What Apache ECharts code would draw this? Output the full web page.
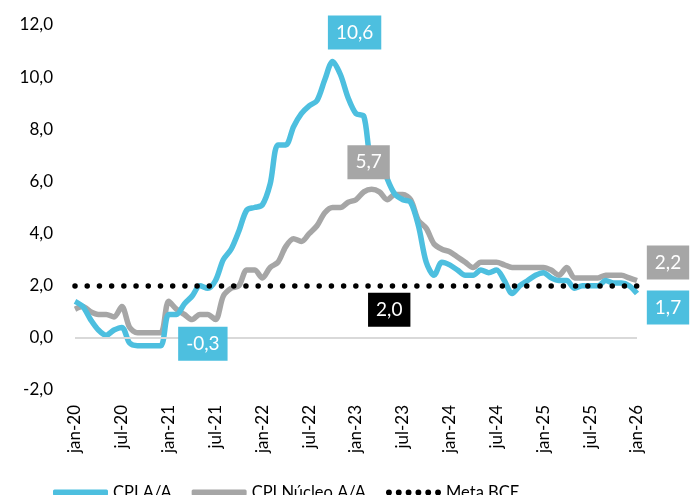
<!DOCTYPE html>
<html>
<head>
<meta charset="utf-8">
<script src="https://cdn.jsdelivr.net/npm/echarts@6/dist/echarts.min.js"></script>
<style>
  html, body { margin: 0; padding: 0; background: #fff; }
  #box { width: 690px; height: 495px; }
</style>
</head>
<body>
<div id="box"></div>
<script>
// meses jan-20 .. jan-26
const months = [
  'jan-20','fev-20','mar-20','abr-20','mai-20','jun-20','jul-20','ago-20','set-20','out-20','nov-20','dez-20',
  'jan-21','fev-21','mar-21','abr-21','mai-21','jun-21','jul-21','ago-21','set-21','out-21','nov-21','dez-21',
  'jan-22','fev-22','mar-22','abr-22','mai-22','jun-22','jul-22','ago-22','set-22','out-22','nov-22','dez-22',
  'jan-23','fev-23','mar-23','abr-23','mai-23','jun-23','jul-23','ago-23','set-23','out-23','nov-23','dez-23',
  'jan-24','fev-24','mar-24','abr-24','mai-24','jun-24','jul-24','ago-24','set-24','out-24','nov-24','dez-24',
  'jan-25','fev-25','mar-25','abr-25','mai-25','jun-25','jul-25','ago-25','set-25','out-25','nov-25','dez-25',
  'jan-26'
];

const cpi = [
  1.4, 1.2, 0.7, 0.3, 0.1, 0.3, 0.4, -0.2, -0.3, -0.3, -0.3, -0.3,
  0.9, 0.9, 1.3, 1.6, 2.0, 1.9, 2.2, 3.0, 3.4, 4.1, 4.9, 5.0,
  5.1, 5.9, 7.4, 7.4, 8.1, 8.6, 8.9, 9.1, 9.9, 10.6, 10.1, 9.2,
  8.6, 8.5, 6.9, 7.0, 6.1, 5.5, 5.3, 5.2, 4.3, 2.9, 2.4, 2.9,
  2.8, 2.6, 2.4, 2.4, 2.6, 2.5, 2.6, 2.2, 1.7, 2.0, 2.2, 2.4,
  2.5, 2.3, 2.2, 2.2, 1.9, 2.0, 2.0, 2.0, 2.2, 2.1, 2.1, 2.0,
  1.7
];

const cpiNucleo = [
  1.1, 1.2, 1.0, 0.9, 0.9, 0.8, 1.2, 0.4, 0.2, 0.2, 0.2, 0.2,
  1.4, 1.1, 0.9, 0.7, 0.9, 0.9, 0.7, 1.6, 1.9, 2.0, 2.6, 2.6,
  2.3, 2.7, 2.9, 3.5, 3.8, 3.7, 4.0, 4.3, 4.8, 5.0, 5.0, 5.2,
  5.3, 5.6, 5.7, 5.6, 5.3, 5.5, 5.5, 5.3, 4.5, 4.2, 3.6, 3.4,
  3.3, 3.1, 2.9, 2.7, 2.9, 2.9, 2.9, 2.8, 2.7, 2.7, 2.7, 2.7,
  2.7, 2.6, 2.4, 2.7, 2.3, 2.3, 2.3, 2.3, 2.4, 2.4, 2.4, 2.3,
  2.2
];

const metaBCE = 2.0;
const yTicks = { min: -2, max: 12, step: 2 };

// rótulos destacados: [mês, deslocamento da caixa]
const cpiMarks = [['out-22', [22, -29]], ['dez-20', [42, -2]], ['jan-26', [31, 14]]];
const nucleoMarks = [['mar-23', [-3, -27]], ['jan-26', [31, -18]]];
const metaMark = ['mai-23', [2, 24]];

const BLUE = '#4DBFDF';
const GREY = '#A6A6A6';
const FONT = 'Lato';

const fmt = (v) => v.toFixed(1).replace('.', ',');

function boxes(marks, values, color) {
  return marks.map(([m, off]) => {
    const v = values[months.indexOf(m)];
    return {
      coord: [m, v],
      value: v,
      label: {
        show: true,
        position: 'inside',
        offset: off,
        formatter: fmt(v),
        color: '#fff',
        backgroundColor: color,
        padding: [7, 8, 7, 8],
        lineHeight: 20,
        fontSize: 19,
        fontFamily: FONT
      }
    };
  });
}

const dotsIcon = 'path://M0,3a3,3 0 1,0 6,0a3,3 0 1,0 -6,0z' +
  'M10,3a3,3 0 1,0 6,0a3,3 0 1,0 -6,0z' +
  'M20,3a3,3 0 1,0 6,0a3,3 0 1,0 -6,0z' +
  'M30,3a3,3 0 1,0 6,0a3,3 0 1,0 -6,0z' +
  'M40,3a3,3 0 1,0 6,0a3,3 0 1,0 -6,0z' +
  'M50,3a3,3 0 1,0 6,0a3,3 0 1,0 -6,0z';

let myChart = echarts.init(document.getElementById('box'));

let option = {
  animation: false,
  grid: { left: 75, right: 53, top: 25, bottom: 105 },
  legend: {
    left: 53,
    top: 484,
    padding: 0,
    itemWidth: 55,
    itemHeight: 6,
    itemGap: 20,
    textStyle: { fontSize: 16.5, color: '#000', fontFamily: FONT },
    data: [
      { name: 'CPI A/A', icon: 'roundRect' },
      { name: 'CPI Núcleo A/A', icon: 'roundRect' },
      { name: 'Meta BCE', icon: dotsIcon }
    ]
  },
  xAxis: {
    type: 'category',
    data: months,
    boundaryGap: false,
    axisLine: { show: false },
    axisTick: { show: false },
    axisLabel: {
      interval: 5,
      rotate: 90,
      margin: 15,
      fontSize: 17,
      color: '#000',
      fontFamily: FONT
    }
  },
  yAxis: {
    type: 'value',
    min: yTicks.min,
    max: yTicks.max,
    interval: yTicks.step,
    splitLine: { show: false },
    axisLine: { show: false },
    axisTick: { show: false },
    axisLabel: {
      formatter: fmt,
      fontSize: 17,
      color: '#000',
      margin: 22,
      fontFamily: FONT
    }
  },
  series: [
    {
      name: 'Meta BCE',
      type: 'line',
      data: [],
      symbol: 'none',
      lineStyle: { color: '#000', width: 6, type: [0.01, 9.6], cap: 'round' },
      itemStyle: { color: '#000' },
      markLine: {
        silent: true,
        symbol: 'none',
        label: { show: false },
        data: [
          {
            yAxis: 0,
            lineStyle: { color: '#D9D9D9', width: 2, type: 'solid' }
          },
          {
            yAxis: metaBCE,
            lineStyle: { color: '#000', width: 5.5, type: [0.01, 12.2], cap: 'round' }
          }
        ]
      },
      markPoint: {
        silent: true,
        symbol: 'circle',
        symbolSize: 0,
        data: boxes([metaMark], months.map(() => metaBCE), '#000')
      },
      z: 1
    },
    {
      name: 'CPI Núcleo A/A',
      type: 'line',
      data: cpiNucleo,
      symbol: 'none',
      smooth: 0.3,
      lineStyle: { color: GREY, width: 5.5 },
      itemStyle: { color: GREY },
      markPoint: {
        silent: true,
        symbol: 'circle',
        symbolSize: 0,
        data: boxes(nucleoMarks, cpiNucleo, GREY)
      },
      z: 2
    },
    {
      name: 'CPI A/A',
      type: 'line',
      data: cpi,
      symbol: 'none',
      smooth: 0.3,
      lineStyle: { color: BLUE, width: 5.5 },
      itemStyle: { color: BLUE },
      markPoint: {
        silent: true,
        symbol: 'circle',
        symbolSize: 0,
        data: boxes(cpiMarks, cpi, BLUE)
      },
      z: 3
    }
  ]
};

myChart.setOption(option);
</script>
</body>
</html>
